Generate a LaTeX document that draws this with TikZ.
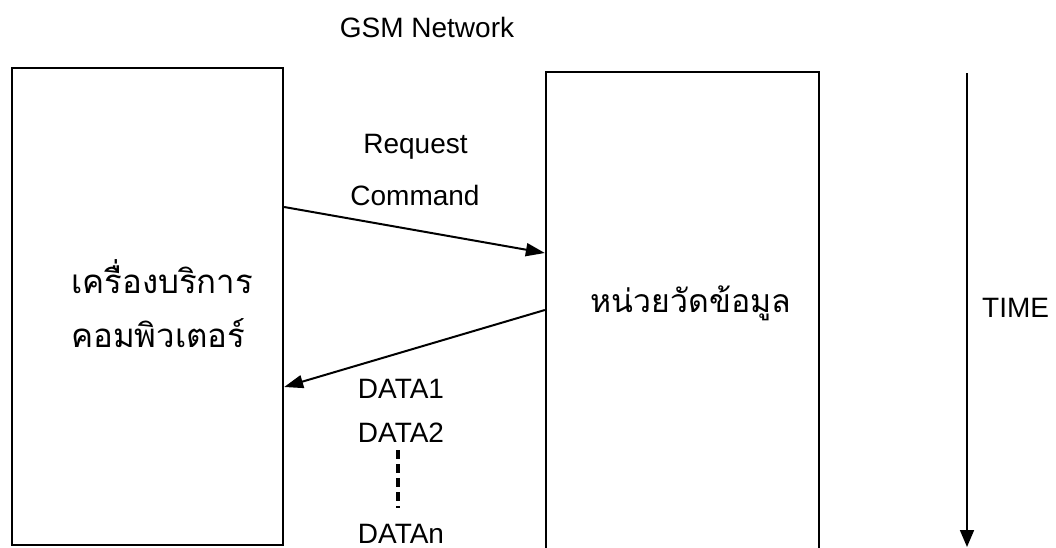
\documentclass[tikz,border=0pt]{standalone}
\usepackage{fontspec}
\setmainfont{Liberation Sans}
\newfontfamily\thaifont[Script=Thai]{Loma}
\usetikzlibrary{arrows.meta}

\begin{document}
\begin{tikzpicture}[x=1pt,y=-1pt,
  box/.style={draw, line width=2.3pt, inner sep=0pt},
  lbl/.style={font=\fontsize{28}{30}\selectfont, inner sep=0pt, anchor=base},
  thlbl/.style={font=\thaifont\fontsize{33}{35}\selectfont, inner sep=0pt},
  msg/.style={line width=2pt, -{Triangle[length=19pt,width=13pt]}},
  timeline/.style={line width=1.7pt, -{Triangle[length=17pt,width=14pt]}},
  dotline/.style={line width=3.8pt, dash pattern=on 9pt off 5pt},
]
\path[use as bounding box] (0,0) rectangle (1056,547);
\clip (0,0) rectangle (1056,547);

% the two parties
\node[box, minimum width=271pt, minimum height=477pt] (srv) at (147.5,306.5) {};
\node[box, minimum width=273pt, minimum height=498pt] (unit) at (682.5,321) {};

\node[thlbl, anchor=base west] (srvA) at (71,293) {เครื่องบริการ};
\node[thlbl, anchor=base west] (srvB) at (71,347) {คอมพิวเตอร์};
\node[thlbl, font=\thaifont\fontsize{32}{34}\selectfont, anchor=base] (unitT) at (691,312) {หน่วยวัดข้อมูล};

% titles and labels
\node[lbl] (gsm) at (427,37) {GSM Network};
\node[lbl] (req) at (415.5,153) {Request};
\node[lbl] (cmd) at (415,205) {Command};
\node[lbl] (d1) at (401,398) {DATA1};
\node[lbl] (d2) at (401,442) {DATA2};
\node[lbl] (dn) at (401,543) {DATAn};
\node[lbl, anchor=base west] (time) at (982,317) {TIME};

% message levels
\coordinate (yreqA) at (0,207);
\coordinate (yreqB) at (0,253);
\coordinate (ydatA) at (0,310);
\coordinate (ydatB) at (0,387);

\draw[msg] (srv.east |- yreqA) -- (unit.west |- yreqB);
\draw[msg] (unit.west |- ydatA) -- (srv.east |- ydatB);

% continuation between DATA2 and DATAn
\coordinate (dotsA) at (398,450);
\coordinate (dotsB) at (398,508);
\draw[dotline] (dotsA) -- (dotsB);

% time axis
\coordinate (tA) at (967,73);
\coordinate (tB) at (967,547);
\draw[timeline] (tA) -- (tB);
\end{tikzpicture}
\end{document}
